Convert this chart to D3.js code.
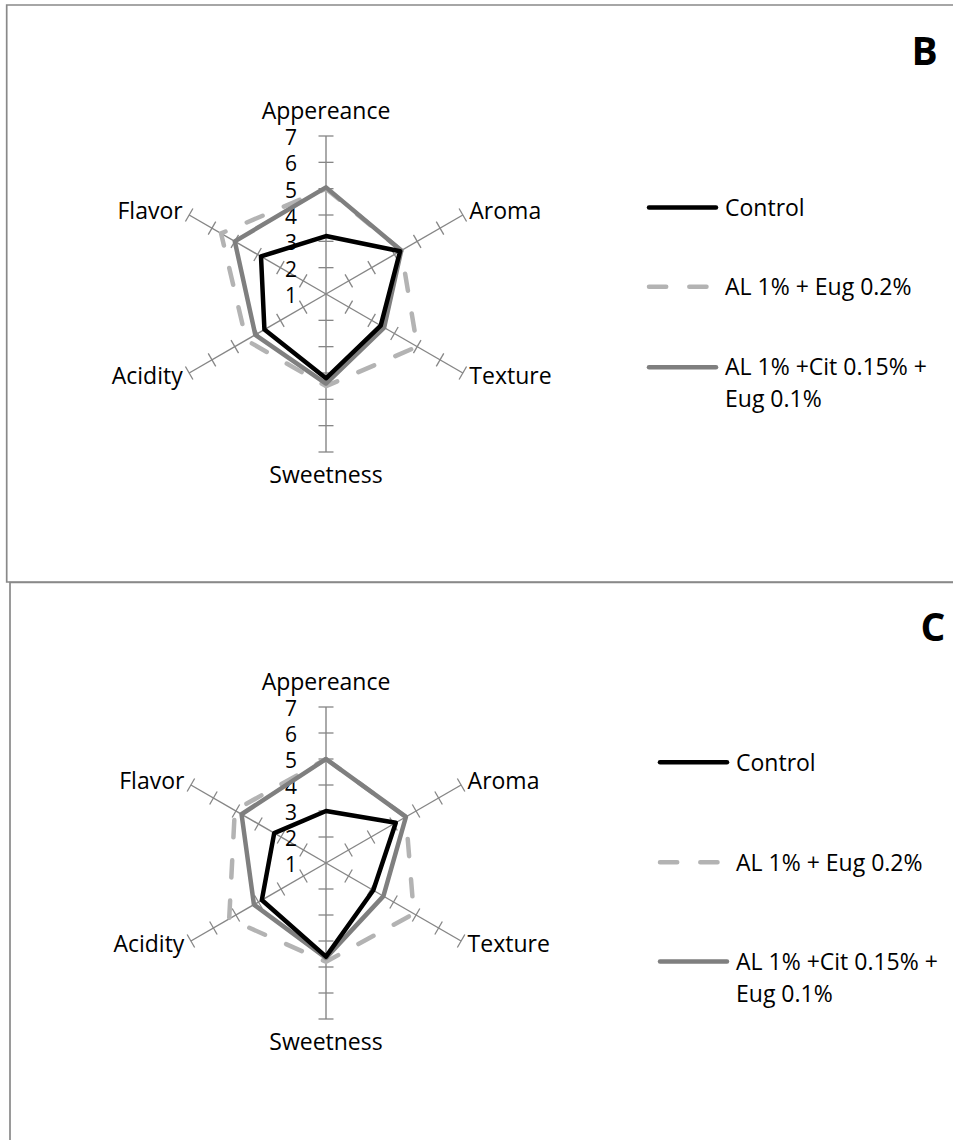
<!DOCTYPE html>
<html>
<head>
<meta charset="utf-8">
<script src="https://cdn.jsdelivr.net/npm/d3@7"></script>
<style>
  body { margin: 0; background: #fff; }
  svg { display: block; }
  text { font-family: "Open Sans", sans-serif; fill: #000; }
</style>
</head>
<body>
<svg id="chart" width="953" height="1140"></svg>
<script>
// Sensory attributes (spokes, clockwise from the top)
const attributes = ["Appereance", "Aroma", "Texture", "Sweetness", "Acidity", "Flavor"];
const seriesNames = ["Control", "AL 1% + Eug 0.2%", "AL 1% +Cit 0.15% + Eug 0.1%"];
const tickValues = [1, 2, 3, 4, 5, 6, 7];

// Panel B scores
const controlB = [3.2, 4.25, 3.4, 4.2, 3.7, 3.85];
const eugB     = [5.0, 4.3, 5.0, 4.5, 4.5, 5.6];
const citB     = [5.05, 4.3, 3.55, 4.4, 4.1, 5.0];

// Panel C scores
const controlC = [3.0, 4.1, 3.1, 4.6, 3.85, 3.3];
const eugC     = [5.0, 4.55, 4.9, 4.8, 5.3, 5.05];
const citC     = [5.0, 4.55, 3.55, 4.65, 4.2, 4.75];

const svg = d3.select("#chart");
const axisColor = "#868686";
const styles = [
  { color: "#000000", dash: null },
  { color: "#b3b3b3", dash: "17.2,23.1" },
  { color: "#7f7f7f", dash: null }
];
// drawing order: dashed first, then grey, control on top
const drawOrder = [1, 2, 0];

function radar(cfg) {
  const g = svg.append("g");
  const r = d3.scaleLinear().domain([1, 7]).range([0, cfg.R]);
  const angle = d3.scaleLinear().domain([0, attributes.length]).range([-Math.PI / 2, 1.5 * Math.PI]);
  const pt = (i, v) => [cfg.cx + r(v) * Math.cos(angle(i)), cfg.cy + r(v) * Math.sin(angle(i))];

  // spokes
  attributes.forEach((a, i) => {
    const [x2, y2] = pt(i, 7);
    g.append("line").attr("x1", cfg.cx).attr("y1", cfg.cy).attr("x2", x2).attr("y2", y2)
      .attr("stroke", axisColor).attr("stroke-width", 1.4);
    const th = angle(i);
    const px = -Math.sin(th), py = Math.cos(th);
    tickValues.filter(t => t > 1).forEach(t => {
      const [tx, ty] = pt(i, t);
      g.append("line")
        .attr("x1", tx - px * 7.5).attr("y1", ty - py * 7.5)
        .attr("x2", tx + px * 7.5).attr("y2", ty + py * 7.5)
        .attr("stroke", axisColor).attr("stroke-width", 1.3);
    });
  });

  // value labels on the first spoke
  g.selectAll("text.tick").data(tickValues).join("text")
    .attr("class", "tick")
    .attr("x", cfg.cx - 29)
    .attr("y", d => cfg.cy - r(d) + 9)
    .attr("text-anchor", "end")
    .attr("font-size", 21)
    .text(d => d);

  // category labels
  attributes.forEach((a, i) => {
    const th = angle(i);
    const [ex, ey] = pt(i, 7);
    const c = Math.cos(th), s = Math.sin(th);
    let x, y, anchor;
    if (Math.abs(c) < 0.01) {
      x = ex; anchor = "middle";
      y = s < 0 ? ey - 17 : ey + 30.5;
    } else {
      x = ex + c * 7.5;
      y = ey + s * 7 + 7;
      anchor = c > 0 ? "start" : "end";
    }
    g.append("text").attr("x", x).attr("y", y).attr("text-anchor", anchor)
      .attr("font-size", 23).text(a);
  });

  // series polygons
  const line = d3.line().curve(d3.curveLinearClosed);
  drawOrder.forEach(k => {
    const vals = cfg.series[k];
    g.append("path")
      .attr("d", line(vals.map((v, i) => pt(i, v))))
      .attr("fill", "none")
      .attr("stroke", styles[k].color)
      .attr("stroke-width", 4.5)
      .attr("stroke-linejoin", "round")
      .attr("stroke-linecap", "round")
      .attr("stroke-dasharray", styles[k].dash);
  });

  // legend
  const lg = g.append("g");
  cfg.legendY.forEach((ly, k) => {
    lg.append("line")
      .attr("x1", cfg.legendX).attr("x2", cfg.legendX + 67)
      .attr("y1", ly).attr("y2", ly)
      .attr("stroke", styles[k].color)
      .attr("stroke-width", 4.5)
      .attr("stroke-linecap", "round")
      .attr("stroke-dasharray", styles[k].dash);
  });
  const textX = cfg.legendX + 76;
  lg.append("text").attr("x", textX).attr("y", cfg.legendY[0] + 8.5).attr("font-size", 23).text(seriesNames[0]);
  lg.append("text").attr("x", textX).attr("y", cfg.legendY[1] + 8.3).attr("font-size", 23).text(seriesNames[1]);
  const t3 = lg.append("text").attr("x", textX).attr("y", cfg.legendY[2] + 8).attr("font-size", 23);
  t3.append("tspan").attr("x", textX).text("AL 1% +Cit 0.15% +");
  t3.append("tspan").attr("x", textX).attr("dy", 32).text("Eug 0.1%");

  // panel letter
  g.append("text").attr("x", cfg.letterX).attr("y", cfg.letterY)
    .attr("font-size", 39).attr("font-weight", "bold").text(cfg.letter);
}

// panel frames
svg.append("path").attr("d", "M960,5H6.7V582H960")
  .attr("fill", "none").attr("stroke", "#898989").attr("stroke-width", 1.7);
svg.append("path").attr("d", "M10,1150V582.5H960")
  .attr("fill", "none").attr("stroke", "#898989").attr("stroke-width", 1.7);

radar({
  cx: 326, cy: 294, R: 158,
  series: [controlB, eugB, citB],
  legendX: 649, legendY: [207.5, 286.7, 367.3],
  letter: "B", letterX: 911.5, letterY: 65
});

radar({
  cx: 326, cy: 863, R: 156,
  series: [controlC, eugC, citC],
  legendX: 660, legendY: [762.3, 862.3, 961.5],
  letter: "C", letterX: 920.5, letterY: 641
});
</script>
</body>
</html>
